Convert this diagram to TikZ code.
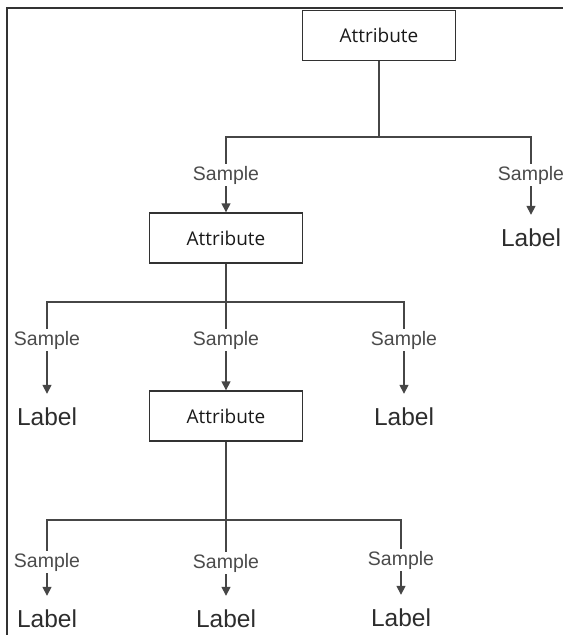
\documentclass[tikz,border=0pt]{standalone}
\usepackage{fontspec}
\setmainfont{Liberation Sans}
\newfontfamily\attrfont{Open Sans}
\usetikzlibrary{arrows.meta}

\definecolor{linegray}{RGB}{70,70,70}
\definecolor{boxgray}{RGB}{50,50,50}
\definecolor{samplegray}{RGB}{75,75,75}
\definecolor{leafgray}{RGB}{45,45,45}

\tikzset{
  attrbox/.style={draw=boxgray, line width=1.4pt, minimum width=153pt, minimum height=50pt,
    font=\attrfont\fontsize{19}{22}\selectfont, text=black!90},
  samplelbl/.style={font=\fontsize{19.5}{22}\selectfont, text=samplegray, inner sep=2pt},
  leaflbl/.style={font=\fontsize{24.5}{28}\selectfont, text=leafgray, inner xsep=2pt, inner ysep=14pt},
  branch/.style={draw=linegray, line width=1.5pt},
  pointer/.style={branch, -{Triangle[length=9pt,width=9pt]}}
}

\begin{document}
\begin{tikzpicture}[x=1pt,y=-1pt]
\useasboundingbox (0,0) rectangle (563,635);
\draw[line width=2pt, black!80] (7,635) -- (7,8) -- (563,8);

% first split
\node[attrbox] (attrA) at (379,35.5) {Attribute};
\node[samplelbl] (smpA1) at (226,175) {Sample};
\node[samplelbl] (smpA2) at (531,175) {Sample};
\node[leaflbl] (lblA2) at (531,238) {Label};
\coordinate (splitA) at (379,137);

% second split
\node[attrbox] (attrB) at (226,238) {Attribute};
\node[samplelbl] (smpB1) at (47,340) {Sample};
\node[samplelbl] (smpB2) at (226,340) {Sample};
\node[samplelbl] (smpB3) at (404,340) {Sample};
\node[leaflbl] (lblB1) at (47,417) {Label};
\node[leaflbl] (lblB3) at (404,417) {Label};
\coordinate (splitB) at (226,302);

% third split
\node[attrbox] (attrC) at (226,416) {Attribute};
\node[samplelbl] (smpC1) at (47,562) {Sample};
\node[samplelbl] (smpC2) at (226,563) {Sample};
\node[samplelbl] (smpC3) at (401,560) {Sample};
\node[leaflbl] (lblC1) at (47,619) {Label};
\node[leaflbl] (lblC2) at (226,619) {Label};
\node[leaflbl] (lblC3) at (401,618) {Label};
\coordinate (splitC) at (226,520);

% connectors
\draw[branch] (attrA) -- (splitA);
\draw[branch] (smpA1.north) |- (splitA) -| (smpA2.north);
\draw[pointer] (smpA1) -- (attrB);
\draw[pointer] (smpA2) -- (lblA2);

\draw[branch] (attrB) -- (smpB2);
\draw[branch] (smpB1.north) |- (splitB) -| (smpB3.north);
\draw[pointer] (smpB1) -- (lblB1);
\draw[pointer] (smpB2) -- (attrC);
\draw[pointer] (smpB3) -- (lblB3);

\draw[branch] (attrC) -- (smpC2);
\draw[branch] (smpC1.north) |- (splitC) -| (smpC3.north);
\draw[pointer] (smpC1) -- (lblC1);
\draw[pointer] (smpC2) -- (lblC2);
\draw[pointer] (smpC3) -- (lblC3);

\end{tikzpicture}
\end{document}
